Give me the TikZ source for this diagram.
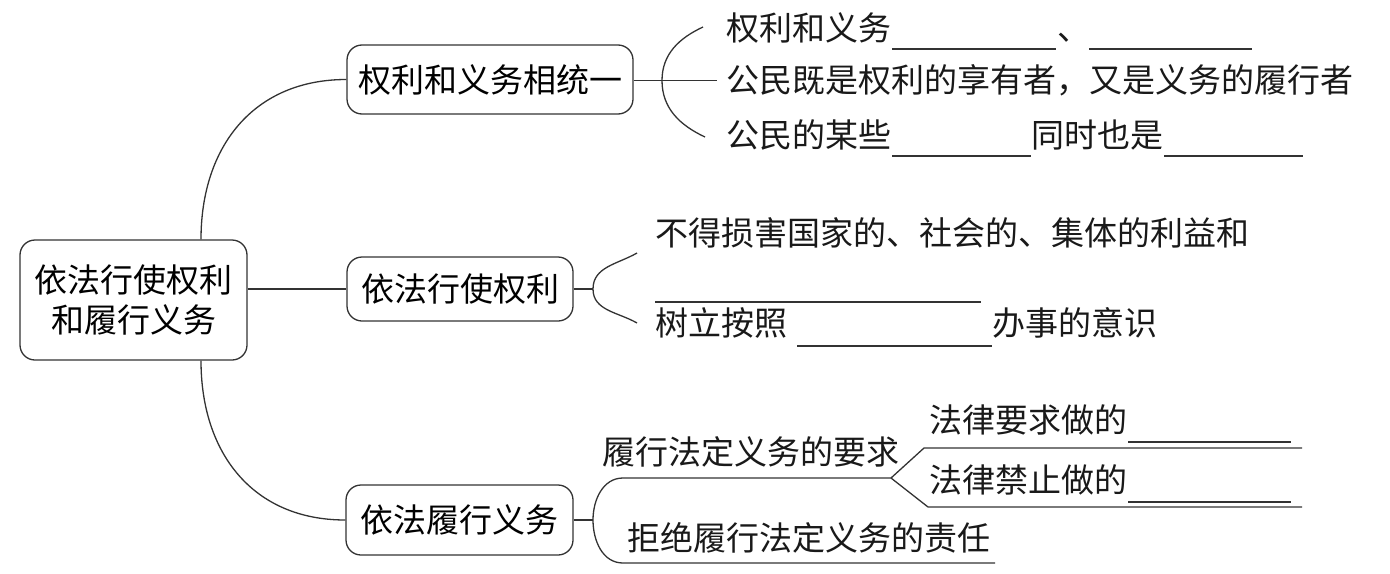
\documentclass[tikz,border=0pt]{standalone}
\usepackage{fontspec}
\setmainfont{Noto Sans CJK SC}
\begin{document}
\begin{tikzpicture}[x=0.5pt,y=-0.5pt,
  line/.style={line width=0.65pt, draw=black!80},
  box/.style={line, rounded corners=7.5pt, inner sep=0pt, align=center,
    font=\fontsize{16.5pt}{20pt}\selectfont},
  txt/.style={anchor=west, inner sep=0pt, text=black!90,
    font=\fontsize{16.5pt}{20pt}\selectfont, text height=0.88em, text depth=0.12em},
  blank/.style={line width=0.75pt, draw=black!80}]
\useasboundingbox (0,0) rectangle (1390,573);

% main boxes
\node[box, minimum width=113.5pt, minimum height=60pt] (root) at (133.5,300) {依法行使权利\\和履行义务};
\node[box, minimum width=143pt, minimum height=34.5pt] (b1) at (490,79.5) {权利和义务相统一};
\node[box, minimum width=113pt, minimum height=32pt] (b2) at (460,289) {依法行使权利};
\node[box, minimum width=113.5pt, minimum height=35pt] (b3) at (459.5,520) {依法履行义务};

% root connectors
\coordinate (rn) at ([xshift=33.75pt]root.north);
\coordinate (rs) at ([xshift=33.75pt]root.south);
\draw[line] (rn) to[out=90,in=180,looseness=1.1] (b1.west);
\draw[line] (b2.west -| root.east) -- (b2.west);
\draw[line] (rs) to[out=-90,in=180,looseness=1.1] (b3.west);

% branch 1
\node[txt] (t11) at (726,33) {权利和义务};
\node[txt] (t11d) at (1057,33) {、};
\node[txt] (t12) at (726,85) {公民既是权利的享有者，又是义务的履行者};
\node[txt] (t13) at (726,140) {公民的某些};
\node[txt] (t13b) at (1031,140) {同时也是};
\coordinate (a1t) at (703,27);
\coordinate (a1m) at (662,80.5);
\coordinate (a1b) at (705,137);
\coordinate (e1) at (717,80.5);
\draw[line] (a1t) to[out=205,in=90] (a1m) to[out=-90,in=155] (a1b);
\draw[line] (b1.east |- a1m) -- (e1);
\draw[blank] (892,49) -- (1056,49);
\draw[blank] (1089,49) -- (1252,49);
\draw[blank] (892,156) -- (1031,156);
\draw[blank] (1164,156) -- (1303,156);

% branch 2
\node[txt] (t21) at (655,238) {不得损害国家的、社会的、集体的利益和};
\node[txt] (t22) at (655,328) {树立按照};
\node[txt] (t22b) at (992,328) {办事的意识};
\coordinate (f2) at (593,289);
\coordinate (a2t) at (637,253);
\coordinate (a2b) at (637,323);
\draw[line] (b2.east) -- (f2);
\draw[line] (a2t) to[out=210,in=90] (f2) to[out=-90,in=150] (a2b);
\draw[blank] (655,302) -- (981,302);
\draw[blank] (797,346) -- (992,346);

% branch 3
\node[txt] (t31) at (602,457) {履行法定义务的要求};
\node[txt] (t32) at (929,425) {法律要求做的};
\node[txt] (t33) at (929,485) {法律禁止做的};
\node[txt] (t34) at (627,543) {拒绝履行法定义务的责任};
\coordinate (f3) at (593,520);
\coordinate (u3) at (623,478);
\coordinate (fork) at (891,478);
\coordinate (fu) at (924,448);
\coordinate (fue) at (1302,448);
\coordinate (fd) at (928,507);
\coordinate (fde) at (1302,507);
\coordinate (l3) at (623,563);
\coordinate (l3e) at (995,563);
\draw[line] (b3.east) -- (f3);
\draw[line] (f3) to[out=90,in=180] (u3) -- (fork);
\draw[line] (fork) -- (fu) -- (fue);
\draw[line] (fork) -- (fd) -- (fde);
\draw[line] (f3) to[out=-90,in=180] (l3) -- (l3e);
\draw[blank] (1128,442) -- (1291,442);
\draw[blank] (1128,502) -- (1291,502);
\end{tikzpicture}
\end{document}
